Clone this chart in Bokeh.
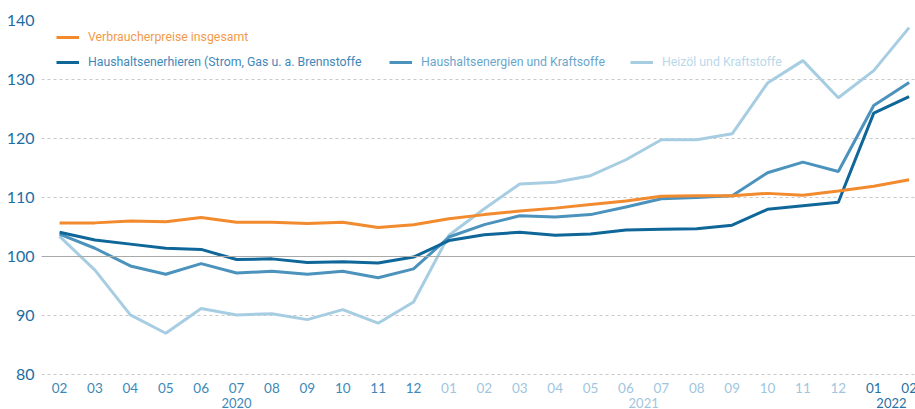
from bokeh.plotting import figure
from bokeh.models import (ColumnDataSource, LabelSet, Legend, LegendItem, Span,
                          FixedTicker, Range1d)
from bokeh.core.properties import field, value
from bokeh.embed import file_html
from bokeh.resources import INLINE

# ---------------- data ----------------
months = ["02", "03", "04", "05", "06", "07", "08", "09", "10", "11", "12",
          "01", "02", "03", "04", "05", "06", "07", "08", "09", "10", "11", "12",
          "01", "02"]
years = ["2020"] * 11 + ["2021"] * 12 + ["2022"] * 2

verbraucherpreise = [105.7, 105.7, 106.0, 105.9, 106.6, 105.8, 105.8, 105.6, 105.8, 104.9, 105.4,
                     106.4, 107.1, 107.7, 108.2, 108.8, 109.4, 110.2, 110.3, 110.3, 110.7, 110.4, 111.1,
                     111.9, 113.0]
haushaltsenergie_strom = [104.1, 102.8, 102.1, 101.4, 101.2, 99.5, 99.6, 99.0, 99.1, 98.9, 99.9,
                          102.7, 103.7, 104.1, 103.6, 103.8, 104.5, 104.6, 104.7, 105.3, 108.0, 108.6, 109.2,
                          124.3, 127.1]
haushaltsenergie_kraft = [103.8, 101.4, 98.4, 97.0, 98.8, 97.2, 97.5, 97.0, 97.5, 96.4, 97.9,
                          103.3, 105.4, 106.9, 106.7, 107.1, 108.4, 109.8, 110.0, 110.3, 114.2, 116.0, 114.4,
                          125.6, 129.5]
heizoel_kraft = [103.4, 97.7, 90.1, 87.0, 91.2, 90.1, 90.3, 89.3, 91.0, 88.7, 92.3,
                 103.6, 108.1, 112.3, 112.6, 113.7, 116.4, 119.8, 119.8, 120.8, 129.4, 133.2, 126.9,
                 131.5, 138.8]

labels = ["Verbraucherpreise insgesamt",
          "Haushaltsenerhieren (Strom, Gas u. a. Brennstoffe",
          "Haushaltsenergien und Kraftsoffe",
          "Heizöl und Kraftstoffe"]
y_ticks = [80, 90, 100, 110, 120, 130, 140]
BASE = 100

# ---------------- styles ----------------
C_ORANGE = "#f28a2e"
C_DARK = "#0f6699"
C_MID = "#4b92bd"
C_LIGHT = "#a7cde2"
TXT = ["#f39a4a", "#3f88ba", "#6aa6cc", "#b9d8ea"]
YEAR_COL = {"2020": "#3c88b8", "2021": "#9fc6de", "2022": "#2a70a3"}

x = list(range(len(months)))
src = ColumnDataSource(dict(x=x, v=verbraucherpreise, s=haushaltsenergie_strom,
                            k=haushaltsenergie_kraft, h=heizoel_kraft))

p = figure(width=915, height=409, output_backend="svg", toolbar_location=None,
           x_range=Range1d(-0.51, 24.18), y_range=Range1d(74.07, 140),
           min_border_left=41, min_border_right=0, min_border_top=20, min_border_bottom=0)
p.outline_line_color = None
p.background_fill_color = "white"
p.border_fill_color = "white"

# grid
p.xgrid.grid_line_color = None
p.ygrid.grid_line_color = "#c9c9c9"
p.ygrid.grid_line_dash = "3 3"
p.ygrid.grid_line_width = 1
p.yaxis.ticker = FixedTicker(ticks=y_ticks)
p.add_layout(Span(location=BASE, dimension="width", line_color="#a9a9a9", line_width=1.2))

# axes
p.yaxis.axis_line_color = None
p.yaxis.major_tick_line_color = None
p.yaxis.minor_tick_line_color = None
p.yaxis.major_tick_out = 0
p.yaxis.major_tick_in = 0
p.yaxis.minor_tick_out = 0
p.yaxis.major_label_text_font = "Lato"
p.yaxis.major_label_text_font_size = "16px"
p.yaxis.major_label_text_color = "#1c6da3"
p.yaxis.major_label_standoff = 7
p.xaxis.visible = False

# lines
rh = p.line("x", "h", source=src, line_color=C_LIGHT, line_width=3)
rk = p.line("x", "k", source=src, line_color=C_MID, line_width=3)
rs = p.line("x", "s", source=src, line_color=C_DARK, line_width=3)
rv = p.line("x", "v", source=src, line_color=C_ORANGE, line_width=3)

# month tick labels (coloured by year) and year labels
tick_src = ColumnDataSource(dict(x=x, label=months, color=[YEAR_COL[y] for y in years]))
p.add_layout(LabelSet(x="x", y=22, y_units="screen", text="label", source=tick_src,
                      text_align="center", text_baseline="middle", text_font=value("Lato"),
                      text_font_size=value("13.5px"), text_color=field("color")))
uniq_years = ["2020", "2021", "2022"]
year_x = [sum(i for i, yy in zip(x, years) if yy == u) / years.count(u) for u in uniq_years]
year_src = ColumnDataSource(dict(x=year_x, label=uniq_years, color=[YEAR_COL[u] for u in uniq_years]))
p.add_layout(LabelSet(x="x", y=7, y_units="screen", text="label", source=year_src,
                      text_align="center", text_baseline="middle", text_font=value("Lato"),
                      text_font_size=value("13px"), text_color=field("color")))

# legends
def mk_legend(label, r, color, loc):
    lg = Legend(items=[LegendItem(label=label, renderers=[r])], location=loc,
                orientation="horizontal", padding=0, margin=0, spacing=0,
                border_line_color=None, background_fill_alpha=0,
                glyph_width=23, glyph_height=14, label_height=14, label_standoff=9,
                label_text_font="Roboto", label_text_font_size="12.3px",
                label_text_color=color)
    p.add_layout(lg)

mk_legend(labels[0], rv, TXT[0], (15, 365))
mk_legend(labels[1], rs, TXT[1], (15, 340))
mk_legend(labels[2], rk, TXT[2], (348, 340))
mk_legend(labels[3], rh, TXT[3], (589, 340))

open("out.html", "w").write(file_html(p, INLINE))
